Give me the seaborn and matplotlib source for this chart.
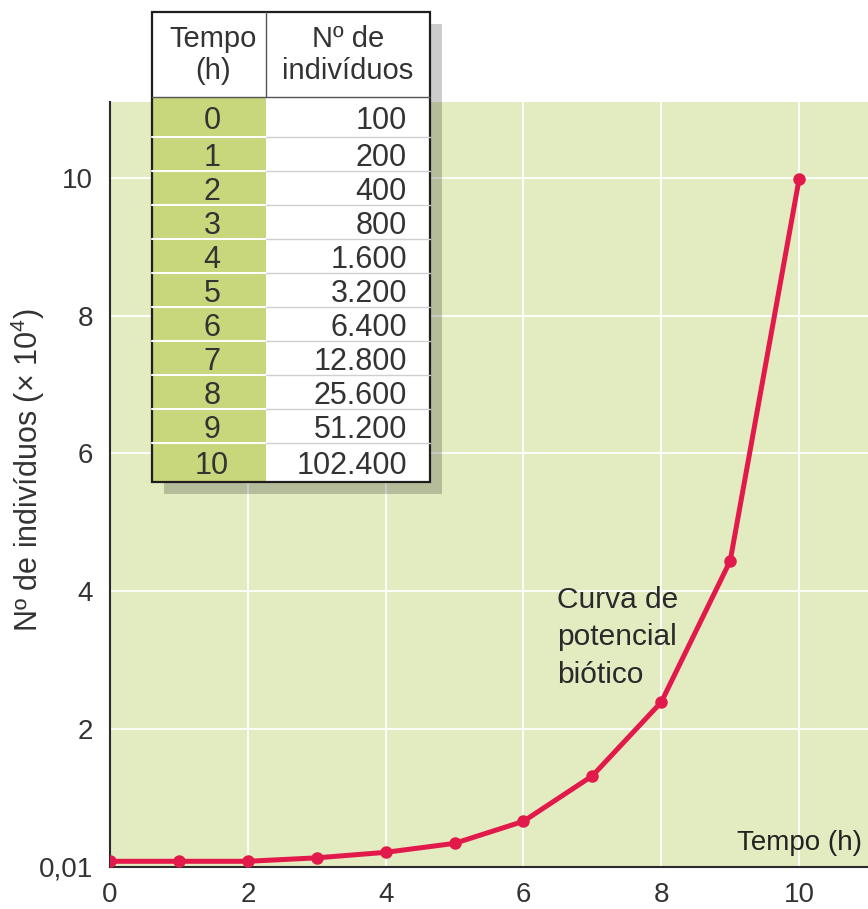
import numpy as np
import pandas as pd
import matplotlib
matplotlib.use("Agg")
import matplotlib.pyplot as plt
from matplotlib.patches import Rectangle
import seaborn as sns

# ---------------- data ----------------
tempo_h = [0, 1, 2, 3, 4, 5, 6, 7, 8, 9, 10]
curve_values = [0.08, 0.08, 0.08, 0.13, 0.21, 0.34, 0.66, 1.32, 2.39, 4.44, 9.98]
table_tempo = ["0", "1", "2", "3", "4", "5", "6", "7", "8", "9", "10"]
table_individuos = ["100", "200", "400", "800", "1.600", "3.200", "6.400",
                    "12.800", "25.600", "51.200", "102.400"]
x_ticks = [0, 2, 4, 6, 8, 10]
y_ticks = [0, 2, 4, 6, 8, 10]
y_tick_labels = ["0,01", "2", "4", "6", "8", "10"]

# ---------------- style ----------------
sns.set_style("white")
plt.rcParams["font.family"] = ["Liberation Sans", "DejaVu Sans"]
plt.rcParams["mathtext.fontset"] = "custom"
plt.rcParams["mathtext.rm"] = "Liberation Sans"
plt.rcParams["mathtext.it"] = "Liberation Sans"

TXT = "#333333"
W, H = 868, 909
fig = plt.figure(figsize=(W / 100, H / 100), dpi=100)
fig.patch.set_facecolor("white")

ax = fig.add_axes([110 / W, 1 - 866.8 / H, (868 - 110) / W, (866.8 - 102) / H])
ax.set_facecolor("#e3ebc0")

df = pd.DataFrame({"Tempo": tempo_h, "N": curve_values})
sns.lineplot(data=df, x="Tempo", y="N", ax=ax, color="#e2194b", lw=3.6,
             marker="o", markersize=9, markeredgewidth=0, zorder=3)

ax.set_xlim(0, 11.0)
ax.set_ylim(0, 11.1)
ax.set_xticks(x_ticks)
ax.set_yticks(y_ticks, y_tick_labels)
ax.grid(True, color="white", lw=1.3, zorder=1)
ax.set_axisbelow(True)
for s in ["top", "right"]:
    ax.spines[s].set_visible(False)
for s in ["left", "bottom"]:
    ax.spines[s].set_color("#2b2b2b")
    ax.spines[s].set_linewidth(1.5)
ax.tick_params(direction="out", length=7, width=1.3, color="#2b2b2b",
               labelsize=20, labelcolor=TXT)
ax.tick_params(axis="y", pad=5)
ax.tick_params(axis="x", pad=4)
ax.set_xlabel("")
ax.set_ylabel("")

ax.text(0.992, 0.031, "Tempo (h)", transform=ax.transAxes, ha="right",
        va="center", fontsize=20, color="#222222")
ax.text(6.49, 3.33, "Curva de\npotencial\nbiótico", ha="left", va="center",
        fontsize=21.5, color="#2a2a2a", linespacing=1.42)

fig.text(28 / W, 1 - 470 / H, "Nº de indivíduos (× 10$^4$)", rotation=90,
         ha="center", va="center", fontsize=22, color=TXT)

# ---------------- table overlay ----------------
tab = fig.add_axes([0, 0, 1, 1], zorder=10)
tab.set_xlim(0, W)
tab.set_ylim(H, 0)
tab.axis("off")

x0, xm, x1 = 152, 266, 430
top, hb, bot = 12, 97, 482
tab.add_patch(Rectangle((x0 + 12, top + 12), x1 - x0, bot - top,
                        fc="black", alpha=0.2, lw=0))
tab.add_patch(Rectangle((x0, top), x1 - x0, hb - top, fc="white", lw=0))
tab.add_patch(Rectangle((x0, hb), xm - x0, bot - hb, fc="#c8d67c", lw=0))
tab.add_patch(Rectangle((xm, hb), x1 - xm, bot - hb, fc="white", lw=0))

bounds = [hb] + [137 + 34 * k for k in range(10)] + [bot]
for yb in bounds[1:-1]:
    tab.plot([x0, xm], [yb, yb], color="white", lw=1.5)
    tab.plot([xm, x1], [yb, yb], color="#cfcfcf", lw=1.0)
tab.plot([x0, x1], [hb, hb], color="#555555", lw=1.0)
tab.plot([xm, xm], [top, hb], color="#555555", lw=1.0)
tab.add_patch(Rectangle((x0, top), x1 - x0, bot - top, fill=False,
                        ec="#1e1e1e", lw=1.6))

tab.text(213, 55, "Tempo\n(h)", ha="center", va="center", fontsize=21,
         color=TXT, linespacing=1.2)
tab.text(348, 55, "Nº de\nindivíduos", ha="center", va="center", fontsize=21,
         color=TXT, linespacing=1.2)
for k in range(len(table_tempo)):
    mid = (bounds[k] + bounds[k + 1]) / 2
    base = mid + 12
    tab.text(212, base, table_tempo[k], ha="center", va="baseline",
             fontsize=22, color=TXT)
    tab.text(407, base, table_individuos[k], ha="right", va="baseline",
             fontsize=22, color=TXT)

fig.savefig("out.png", dpi=100)
